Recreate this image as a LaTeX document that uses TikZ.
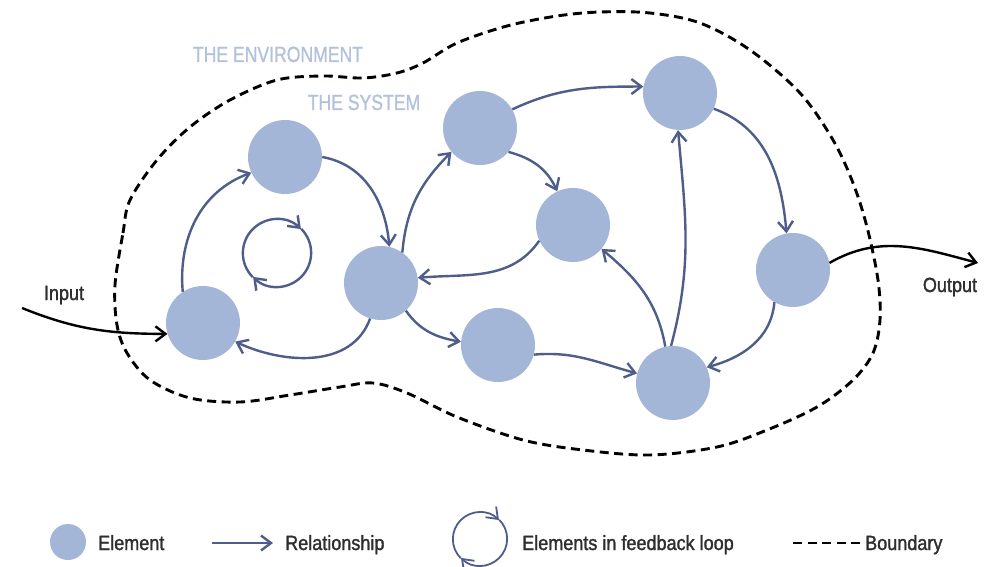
\documentclass[tikz,border=0pt]{standalone}
\usepackage{fontspec}
\setmainfont{Liberation Sans}[FakeStretch=0.88,FakeBold=1.4]
\newfontfamily\capsfont{Liberation Sans}[FakeStretch=0.8,FakeBold=0.9]
\usetikzlibrary{arrows.meta}
\definecolor{elemfill}{HTML}{A3B6D7}
\definecolor{relcol}{HTML}{4F5D8A}
\definecolor{envtext}{HTML}{B3C1DA}
\definecolor{legtext}{HTML}{2E2E2E}
\begin{document}
\begin{tikzpicture}[x=1pt,y=1pt,
  element/.style={circle,fill=elemfill,minimum size=74pt,inner sep=0pt},
  relarrow/.style={draw=relcol,line width=2.4pt,-{Straight Barb[length=10pt,width=15pt]}},
  ioarrow/.style={draw=black,line width=2.4pt,-{Straight Barb[length=10pt,width=15pt]}},
  boundary/.style={draw=black,line width=2.9pt,dash pattern=on 9pt off 5.5pt},
  lab/.style={font=\fontsize{20.5}{24}\selectfont,text=legtext,inner sep=0pt},
  envlab/.style={font=\capsfont\fontsize{22}{26}\selectfont,text=envtext,inner sep=0pt},
  loopring/.style={circle,inner sep=0pt}]
\fill[white] (0,0) rectangle (997,-567);
\useasboundingbox (0,0) rectangle (997,-567);

% boundary
\draw[boundary] plot[smooth cycle,tension=0.55] coordinates {
 (115,-285) (123,-233) (130,-200) (157,-160) (190,-127) (230,-100) (277,-80)
 (323,-76) (363,-78) (397,-73) (423,-63) (457,-43) (507,-26) (557,-16)
 (600,-12) (650,-13) (700,-23) (750,-50) (800,-93) (833,-140) (853,-183)
 (867,-227) (878,-280) (880,-320) (873,-353) (853,-380) (817,-407) (767,-430)
 (717,-447) (650,-455) (583,-450) (523,-440) (457,-417) (407,-393) (373,-383)
 (340,-387) (290,-395) (240,-402) (190,-398) (150,-380) (127,-353) (117,-325)};

% labels
\node[envlab,anchor=base] (env) at (278,-62) {THE ENVIRONMENT};
\node[envlab,anchor=base] (sys) at (364,-110) {THE SYSTEM};

% elements
\node[element] (A) at (203,-323) {};
\node[element] (B) at (285,-157) {};
\node[element] (C) at (381,-283) {};
\node[element] (D) at (480,-128) {};
\node[element] (E) at (573,-225) {};
\node[element] (F) at (498,-345) {};
\node[element] (G) at (680,-93) {};
\node[element] (H) at (793,-270) {};
\node[element] (I) at (673,-383) {};

% relationships
\draw[relarrow] (A.123) to[out=95,in=200] (B.205);
\draw[relarrow] (B.0) to[out=-10,in=95] (C.77);
\draw[relarrow] (C.253) to[out=250,in=-25] (A.-30);
\draw[relarrow] (C.55) to[out=85,in=225] (D.220);
\draw[relarrow] (D.-40) to[out=-15,in=115] (E.115);
\draw[relarrow] (E.205) to[out=235,in=5] (C.8);
\draw[relarrow] (C.-48) to[out=-55,in=170] (F.175);
\draw[relarrow] (F.-15) to[out=5,in=165] (I.165);
\draw[relarrow] (D.30) to[out=25,in=180] (G.170);
\draw[relarrow] (G.-25) to[out=-20,in=95] (H.100);
\draw[relarrow] (H.240) to[out=-95,in=15] (I.25);
\draw[relarrow] (I.93) to[out=75,in=-85] (G.-93);
\draw[relarrow] (I.102) to[out=100,in=-40] (E.-40);

% feedback loop
\node[loopring,minimum size=68pt] (L) at (277,-253) {};
\draw[relarrow] (L.225) arc[start angle=225,end angle=45,radius=34pt];
\draw[relarrow] (L.45) arc[start angle=45,end angle=-135,radius=34pt];

% input / output
\coordinate (inS) at (22,-308);
\coordinate (outE) at (978,-263);
\draw[ioarrow] (inS) to[out=-22,in=180] (A.197);
\draw[ioarrow] (H.11) to[out=30,in=165] (outE);
\node[lab,anchor=base] (inlab) at (64,-300) {Input};
\node[lab,anchor=base] (outlab) at (950,-292) {Output};

% legend
\node[element,minimum size=36pt] (le) at (68,-542) {};
\node[lab,anchor=base west] (let) at (98,-550) {Element};
\coordinate (r1) at (212,-543);
\coordinate (r2) at (273,-543);
\draw[relarrow] (r1) -- (r2);
\node[lab,anchor=base west] (lrt) at (285,-550) {Relationship};
\node[loopring,minimum size=54pt] (LL) at (480,-539) {};
\draw[relarrow,line width=1.8pt] (LL.225) arc[start angle=225,end angle=45,radius=27pt];
\draw[relarrow,line width=1.8pt] (LL.45) arc[start angle=45,end angle=-135,radius=27pt];
\node[lab,anchor=base west] (lft) at (522,-550) {Elements in feedback loop};
\coordinate (b1) at (793,-543);
\coordinate (b2) at (860,-543);
\draw[boundary] (b1) -- (b2);
\node[lab,anchor=base west] (lbt) at (865,-550) {Boundary};
\end{tikzpicture}
\end{document}
